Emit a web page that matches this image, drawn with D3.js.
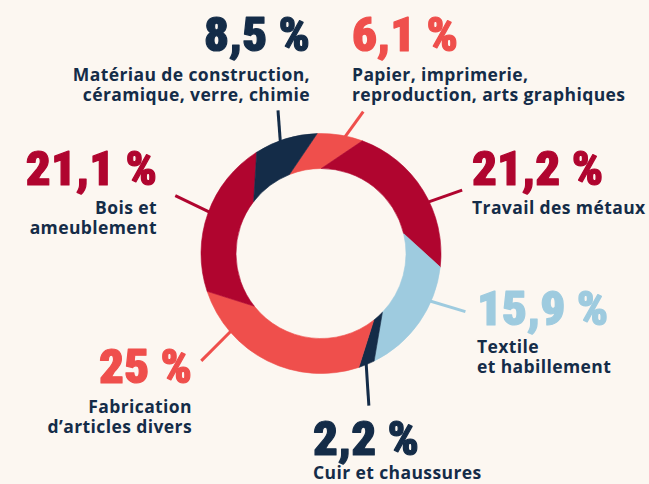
<!DOCTYPE html>
<html>
<head>
<meta charset="utf-8">
<script src="https://cdn.jsdelivr.net/npm/d3@7"></script>
<style>
  html, body { margin: 0; padding: 0; background: #fcf7f1; }
  svg { display: block; }
  .num { font-family: 'Roboto Condensed', 'Liberation Sans Narrow', 'DejaVu Sans Condensed', sans-serif; font-weight: 900; font-size: 49px; stroke-width: 1.2px; stroke-linejoin: round; }
  .lbl { font-family: 'Open Sans', Inter, sans-serif; font-weight: 700; font-size: 17.5px; letter-spacing: 0.4px; fill: #142c48; }
</style>
</head>
<body>
<div id="chart"></div>
<script>
// sectors, clockwise from the top
const categories = [
  ['Papier, imprimerie,', 'reproduction, arts graphiques'],
  ['Travail des métaux'],
  ['Textile', 'et habillement'],
  ['Cuir et chaussures'],
  ['Fabrication', 'd\u2019articles divers'],
  ['Bois et', 'ameublement'],
  ['Matériau de construction,', 'céramique, verre, chimie']
]
const values = [6.1, 21.2, 15.9, 2.2, 25, 21.1, 8.5]
const valueLabels = ['6,1 %', '21,2 %', '15,9 %', '2,2 %', '25 %', '21,1 %', '8,5 %']
const colors = ['#ef4f4c', '#b0052f', '#9ecbdf', '#142c48', '#ef4f4c', '#b0052f', '#142c48']

// label layout: leader angle on the ring (deg), leader direction (deg) and length,
// text anchor, x, number baseline, first text baseline
const layout = [
  { ang: 10, dir: 42, len: 32, anchor: 'start', x: 352, ny: 51, ty: 81 },
  { ang: 64, dir: 72, len: 35, anchor: 'start', x: 472, ny: 185, ty: 214 },
  { ang: 114, dir: 105, len: 36, anchor: 'start', x: 477, ny: 325, ty: 353 },
  { ang: 156.5, dir: 180, len: 42, anchor: 'start', x: 313, ny: 455, ty: 479 },
  { ang: 229.5, dir: 224, len: 41, anchor: 'end', x: 192, ny: 383, ty: 413 },
  { ang: 290, dir: 297, len: 37, anchor: 'end', x: 157, ny: 185, ty: 214 },
  { ang: -21, dir: 0, len: 31, anchor: 'end', x: 310, ny: 51, ty: 81 }
]

const width = 649
const height = 484
const cx = 321
const cy = 253.5
const outerR = 120
const innerR = 85
const twist = -20 * Math.PI / 180
const lineH = 20

const rad = d => d * Math.PI / 180

const svg = d3.select('#chart').append('svg')
  .attr('width', width)
  .attr('height', height)

svg.append('rect')
  .attr('width', width)
  .attr('height', height)
  .attr('fill', '#fcf7f1')

const pie = d3.pie()
  .sort(null)
  .value(d => d)
  .startAngle(rad(-1.8))
  .endAngle(rad(-1.8) + 2 * Math.PI)

const arcs = pie(values)

// swirled ring segment: the inner edge is rotated back against the outer edge
function segment (d) {
  const a0 = d.startAngle
  const a1 = d.endAngle
  const p = d3.path()
  p.moveTo(outerR * Math.sin(a0), -outerR * Math.cos(a0))
  p.arc(0, 0, outerR, a0 - Math.PI / 2, a1 - Math.PI / 2, false)
  p.lineTo(innerR * Math.sin(a1 + twist), -innerR * Math.cos(a1 + twist))
  p.arc(0, 0, innerR, a1 + twist - Math.PI / 2, a0 + twist - Math.PI / 2, true)
  p.closePath()
  return p.toString()
}

const g = svg.append('g')
  .attr('transform', 'translate(' + cx + ',' + cy + ')')

// leader lines, drawn under the ring
g.selectAll('.leader')
  .data(layout)
  .enter().append('line')
  .attr('class', 'leader')
  .attr('x1', d => (outerR - 8) * Math.sin(rad(d.ang)))
  .attr('y1', d => -(outerR - 8) * Math.cos(rad(d.ang)))
  .attr('x2', d => outerR * Math.sin(rad(d.ang)) + d.len * Math.sin(rad(d.dir)))
  .attr('y2', d => -outerR * Math.cos(rad(d.ang)) - d.len * Math.cos(rad(d.dir)))
  .attr('stroke', (d, i) => colors[i])
  .attr('stroke-width', 3)

g.selectAll('.slice')
  .data(arcs)
  .enter().append('path')
  .attr('class', 'slice')
  .attr('d', segment)
  .attr('fill', (d, i) => colors[i])
  .attr('stroke', (d, i) => colors[i])
  .attr('stroke-width', 0.6)

// labels
const labels = svg.selectAll('.label')
  .data(layout)
  .enter().append('g')
  .attr('class', 'label')

labels.append('text')
  .attr('class', 'num')
  .attr('x', d => d.x)
  .attr('y', d => d.ny)
  .attr('text-anchor', d => d.anchor)
  .attr('fill', (d, i) => colors[i])
  .attr('stroke', (d, i) => colors[i])
  .text((d, i) => valueLabels[i])

labels.append('text')
  .attr('class', 'lbl')
  .attr('text-anchor', d => d.anchor)
  .each(function (d, i) {
    d3.select(this).selectAll('tspan')
      .data(categories[i])
      .enter().append('tspan')
      .attr('x', d.x)
      .attr('y', (t, j) => d.ty + j * lineH)
      .text(t => t)
  })
</script>
</body>
</html>
